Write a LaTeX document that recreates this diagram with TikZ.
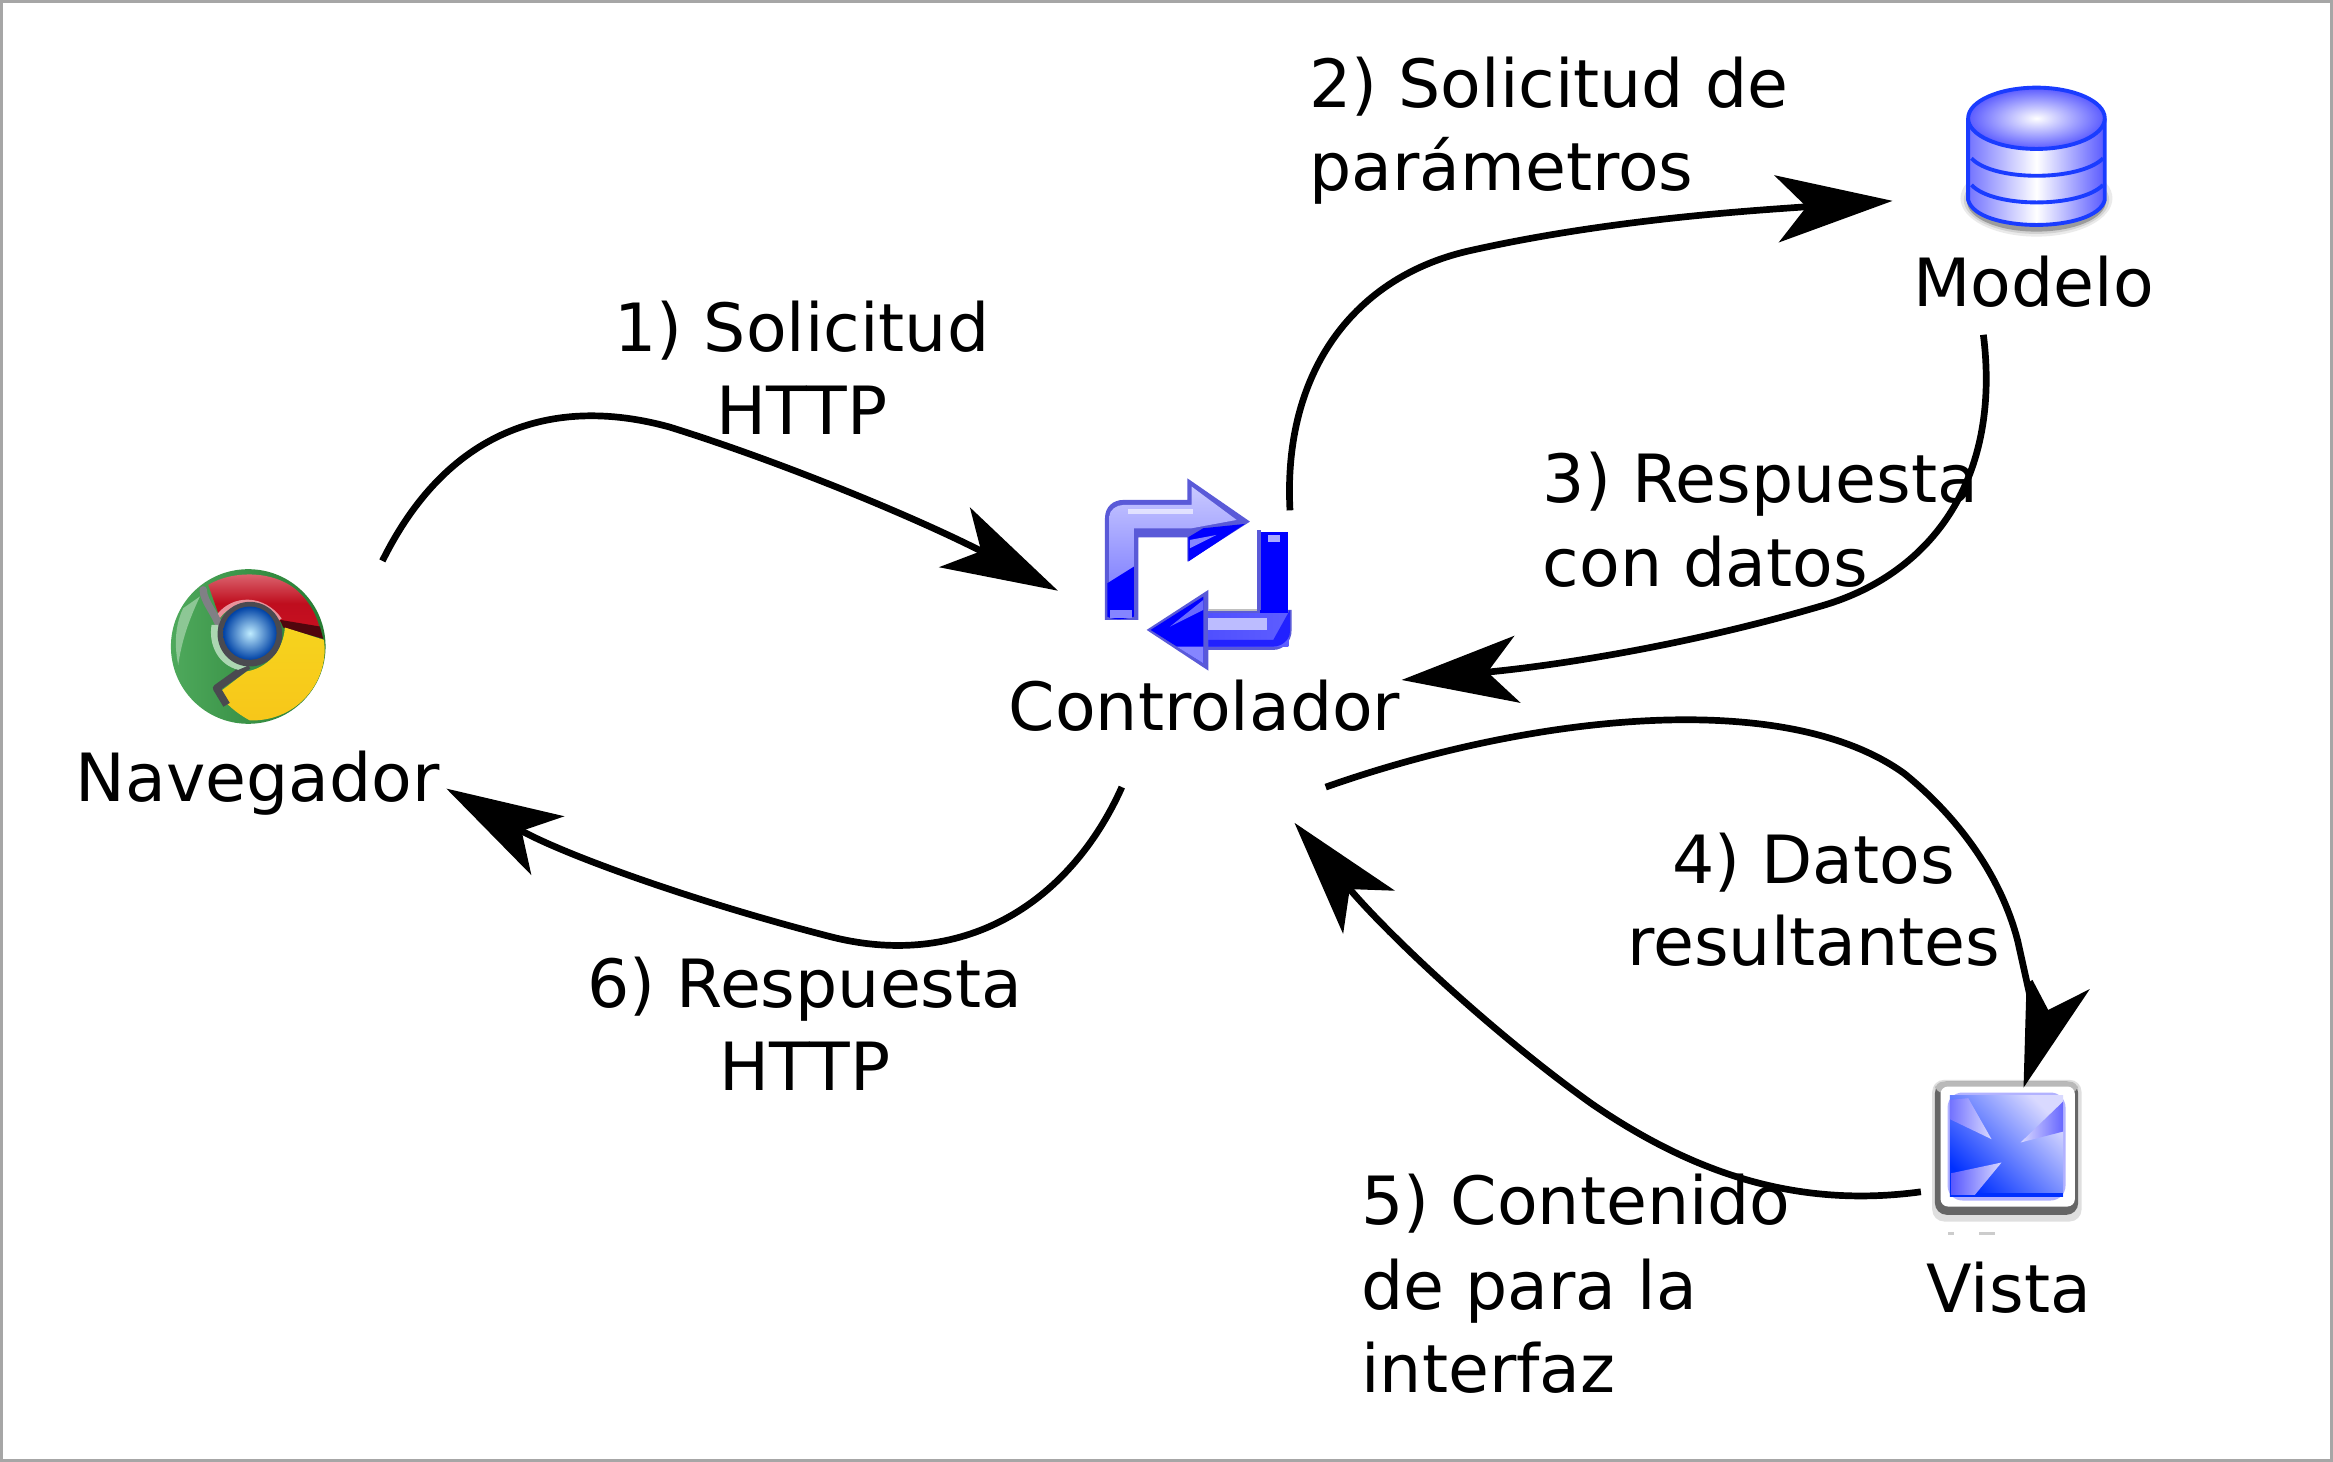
\documentclass[tikz,border=0pt]{standalone}
\usepackage{fontspec}
\setmainfont{DejaVu Sans}
\usetikzlibrary{arrows.meta}
\definecolor{ink}{HTML}{000000}
\definecolor{edge}{HTML}{A6A6A6}
\definecolor{chgreen}{HTML}{2F9A3F}
\definecolor{chred}{HTML}{C90F20}
\definecolor{chyellow}{HTML}{F6D31E}
\definecolor{chdark}{HTML}{4A4A50}
\definecolor{peri}{HTML}{8585FF}
\definecolor{perid}{HTML}{5A5AD8}
\definecolor{vblue}{HTML}{0030FF}
\definecolor{dbline}{HTML}{1A3CFF}
\tikzset{
  lbl/.style={inner sep=0pt,outer sep=0pt,anchor=base west,font=\fontsize{44.7}{56}\selectfont,text=ink},
  lblc/.style={lbl,anchor=base},
  wire/.style={line width=4.5pt,draw=ink},
  conn/.style={wire,-{Stealth[length=78pt,width=45pt,inset=20pt]}},
}
\begin{document}
\begin{tikzpicture}[x=1pt,y=-1pt]
\useasboundingbox (0,0) rectangle (1568,982.6);
\fill[white] (0,0) rectangle (1568,982.6);
\draw[edge,line width=2.5pt] (1,1) rectangle (1567,981.6);

% ---------- Chrome icon
\begin{scope}[shift={(80.6,350.5)},scale=0.224]
\shade[left color=chgreen!85!white,right color=chgreen!80!black] (385,375) circle (232);
\fill[chgreen!55!white] (190,260) .. controls (170,300) and (160,360) .. (175,430) .. controls (185,360) and (205,300) .. (240,225) -- cycle;
\shade[top color=chred!60!white,bottom color=chred,middle color=chred!95!black]
  (265,190) .. controls (340,145) and (470,145) .. (540,215) .. controls (575,250) and (595,290) .. (605,345)
  -- (480,300) .. controls (430,230) and (340,230) .. (300,290) -- cycle;
\draw[chred!45!white,line width=3pt] (295,285) .. controls (340,225) and (430,225) .. (480,295);
\fill[chred!40!black] (480,295) -- (600,315) -- (610,352) -- (490,318) -- cycle;
\shade[top color=chyellow,bottom color=chyellow!85!orange]
  (495,318) -- (612,355) .. controls (630,470) and (540,600) .. (390,597)
  .. controls (350,575) and (320,550) .. (295,515)
  -- (380,450) .. controls (440,440) and (490,390) .. (495,318) -- cycle;
\draw[chdark,line width=5pt,line join=round] (385,432) -- (290,500) -- (320,550);
\draw[chdark!70!white,line width=5pt,line cap=round] (250,205) .. controls (250,240) and (290,280) .. (300,320);
\fill[chgreen!40!white] (275,310) .. controls (265,370) and (295,430) .. (355,445) -- (385,432) .. controls (320,420) and (290,370) .. (295,310) -- cycle;
\fill[chdark] (390,338) circle (97);
\shade[inner color=blue!30!cyan!25!white,outer color=blue!60!cyan!65!black] (390,335) circle (80);
\end{scope}

% ---------- Controller icon
\begin{scope}[shift={(712.4,302.4)},scale=0.224]
\fill[perid] (135,510) -- (135,205) .. controls (135,170) and (160,150) .. (190,150) -- (382,150) -- (382,85) -- (570,215) -- (382,335) -- (382,262) -- (235,262) -- (235,510) -- cycle;
\shade[top color=peri!45!white,bottom color=peri] (148,200) .. controls (148,180) and (170,165) .. (190,165) -- (395,165) -- (395,110) -- (530,210) -- (395,235) -- (222,235) -- (222,370) -- (148,400) -- cycle;
\fill[white,opacity=.6] (205,178) rectangle (400,192);
\fill[blue] (142,400) -- (222,350) -- (222,500) .. controls (190,510) and (160,510) .. (142,500) -- cycle;
\fill[peri] (150,480) rectangle (215,505);
\fill[blue] (385,335) -- (385,262) -- (430,235) -- (555,222) -- cycle;
\fill[peri] (390,295) -- (470,255) -- (390,270) -- cycle;
\fill[perid] (590,480) -- (445,480) -- (445,420) -- (260,540) -- (445,662) -- (445,600) -- (640,600) .. controls (670,600) and (695,575) .. (695,540) -- (695,480) -- cycle;
\shade[left color=peri!60!blue,right color=peri!70!blue] (445,492) rectangle (685,590);
\fill[blue!75!peri] (690,480) -- (690,545) .. controls (690,570) and (665,590) .. (640,590) -- (445,590) -- (445,570) -- (640,570) -- cycle;
\fill[blue] (600,245) rectangle (685,490);
\fill[perid] (590,240) rectangle (603,480);
\fill[peri!70!white] (625,255) rectangle (660,275);
\fill[blue] (272,540) -- (430,440) -- (430,640) -- cycle;
\fill[peri!80!blue] (330,530) -- (430,480) -- (430,450) -- cycle;
\fill[peri!55!white] (445,505) rectangle (620,540);
\fill[peri] (350,590) -- (430,590) -- (430,640) -- cycle;
\draw[gray!50,line width=1.5pt] (445,481) -- (590,481);
\end{scope}

% ---------- Database icon
\begin{scope}[shift={(1297,40.3)},scale=0.224]
\fill[gray!80,opacity=.2] (320,415) ellipse (228 and 115);
\fill[gray!80,opacity=.3] (320,420) ellipse (218 and 102);
\fill[gray!80!black,opacity=.5] (320,425) ellipse (208 and 90);
\shade[left color=blue!55!white,right color=blue!65!white,middle color=white]
  (115,175) -- (115,420) .. controls (140,520) and (500,520) .. (525,420) -- (525,175) -- cycle;
\draw[dbline,line width=2.6pt] (115,175) -- (115,420) .. controls (140,520) and (500,520) .. (525,420) -- (525,175);
\draw[dbline,line width=2.6pt] (125,295) .. controls (190,365) and (450,365) .. (520,295);
\draw[dbline,line width=2.6pt] (125,375) .. controls (190,445) and (450,445) .. (520,375);
\shade[inner color=white,outer color=blue!65!white,draw=dbline,line width=2.6pt] (320,175) ellipse (205 and 92);
\end{scope}

% ---------- View icon
\begin{scope}[shift={(1276.9,705.6)},scale=0.224]
\fill[gray!25,rounded corners=8pt] (97,90) rectangle (545,515);
\fill[gray!80!black,rounded corners=8pt] (105,95) rectangle (535,495);
\fill[gray!55,rounded corners=6pt] (105,95) rectangle (535,130);
\fill[white,rounded corners=5pt] (122,110) rectangle (525,470);
\fill[blue!30!white,rounded corners=10pt] (143,128) rectangle (497,452);
\shade[left color=vblue,middle color=vblue,right color=blue!15!white,shading angle=135] (150,138) rectangle (490,440);
\fill[vblue] (230,428) rectangle (490,440);
\shade[left color=blue!55!white,right color=blue!15!white] (205,145) -- (275,268) -- (150,208) -- (150,150) -- cycle;
\shade[left color=blue!15!white,right color=blue!60!white] (362,278) -- (490,245) -- (490,155) -- cycle;
\shade[left color=blue!65!white,right color=blue!15!white] (305,338) -- (155,370) -- (155,435) -- (225,435) -- cycle;
\fill[gray!40] (145,545) rectangle (163,555);
\fill[gray!40] (238,545) rectangle (285,555);
\end{scope}

% ---------- Labels
\node[lbl] (nav) at (51,539) {Navegador};
\node[lbl] (ctrl) at (678,491) {Controlador};
\node[lbl] (mod) at (1286,206) {Modelo};
\node[lbl] (vis) at (1295,882) {Vista};

\node[lblc] (l1a) at (539,236) {1) Solicitud};
\node[lblc] (l1b) at (539,292) {HTTP};
\node[lbl] (l2a) at (880,72) {2) Solicitud de};
\node[lbl] (l2b) at (880,128) {parámetros};
\node[lbl] (l3a) at (1037,338) {3) Respuesta};
\node[lbl] (l3b) at (1037,394) {con datos};
\node[lblc] (l4a) at (1219,594) {4) Datos};
\node[lblc] (l4b) at (1219,649) {resultantes};
\node[lbl] (l5a) at (915,823) {5) Contenido};
\node[lbl] (l5b) at (915,880) {de para la};
\node[lbl] (l5c) at (915,936) {interfaz};
\node[lblc] (l6a) at (541,677) {6) Respuesta};
\node[lblc] (l6b) at (541,733) {HTTP};

% ---------- Connector ends
\coordinate (navOut) at (257,377);
\coordinate (ctrlIn) at (711,397);
\coordinate (ctrlOut) at (867,343);
\coordinate (modIn) at (1272,135);
\coordinate (modOut) at (1333,225);
\coordinate (ctrlBack) at (942,457);
\coordinate (ctrlData) at (891,529);
\coordinate (visIn) at (1360,731);
\coordinate (visOut) at (1291,801);
\coordinate (ctrlCont) at (870,553);
\coordinate (ctrlResp) at (754,529);
\coordinate (navIn) at (300,530);

\draw[conn] (navOut) .. controls (300,290) and (370,265) .. (450,287) .. controls (530,312) and (620,350) .. (ctrlIn);
\draw[conn] (ctrlOut) .. controls (862,250) and (910,185) .. (990,168) .. controls (1080,148) and (1170,142) .. (modIn);
\draw[conn] (modOut) .. controls (1345,320) and (1300,385) .. (1225,407) .. controls (1130,435) and (1040,448) .. (ctrlBack);
\draw[wire] (ctrlData) .. controls (1030,480) and (1200,462) .. (1280,520) .. controls (1318,551) and (1345,590) .. (1356,632) -- (1364,668);
\fill[ink] (visIn) -- (1362,661) -- (1366,658.6) -- (1376.6,678.8) -- (1404.6,664.7) -- cycle;
\draw[conn] (visOut) .. controls (1210,812) and (1140,790) .. (1070,742) .. controls (1000,692) and (930,625) .. (ctrlCont);
\draw[conn] (ctrlResp) .. controls (720,605) and (650,652) .. (560,630) .. controls (470,607) and (380,575) .. (navIn);
\end{tikzpicture}
\end{document}
